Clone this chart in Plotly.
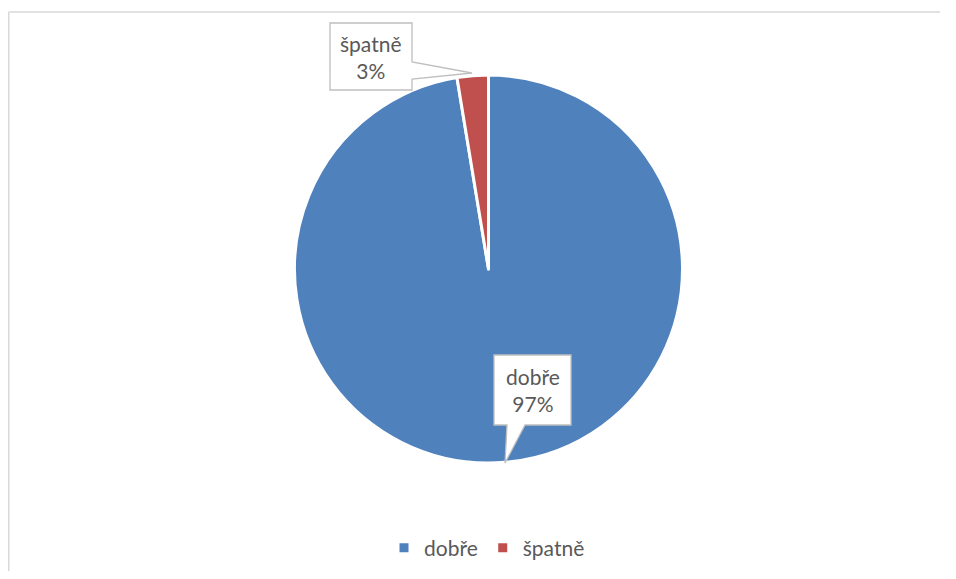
import plotly.graph_objects as go

labels = ["dobře", "špatně"]
values = [97.4, 2.6]
colors = ["#4F81BD", "#C0504D"]

OFF = 8  # page body margin offset in the screenshot
W, H = 956 - 2 * OFF, 579 - 2 * OFF
FONT = "Lato"
TXT = "#595959"

def px(x):
    return (x - OFF) / W

def py(y):
    return 1 - (y - OFF) / H

total = sum(values)
pct = [round(v / total * 100) for v in values]

fig = go.Figure()
fig.add_trace(go.Pie(
    labels=labels, values=values, sort=False, direction="clockwise", rotation=0,
    marker=dict(colors=colors, line=dict(color="white", width=3)),
    textinfo="none", hoverinfo="label+percent",
    domain=dict(x=[px(488.5 - 194), px(488.5 + 194)], y=[py(269 + 194), py(269 - 194)]),
))

def path(points, close=True):
    s = "M " + " L ".join(f"{px(x)},{py(y)}" for x, y in points)
    return s + (" Z" if close else "")

shapes = [
    # chart-area border (left and top edges)
    dict(type="line", xref="paper", yref="paper", x0=px(8.75), x1=px(8.75), y0=0, y1=py(12),
         line=dict(color="#D9D9D9", width=1.5), layer="below"),
    dict(type="line", xref="paper", yref="paper", x0=px(8.75), x1=px(940), y0=py(12), y1=py(12),
         line=dict(color="#D9D9D9", width=1.5), layer="below"),
    # callout for špatně
    dict(type="path", xref="paper", yref="paper",
         path=path([(330, 23), (412, 23), (412, 62), (472, 73), (412, 79), (412, 90), (330, 90)]),
         line=dict(color="#BFBFBF", width=1.3), fillcolor="white", layer="above"),
    # callout for dobře
    dict(type="path", xref="paper", yref="paper",
         path=path([(494, 355), (571, 355), (571, 425), (525, 425), (505, 463), (507, 425), (494, 425)]),
         line=dict(color="#BFBFBF", width=1.3), fillcolor="white", layer="above"),
]

annotations = [
    dict(x=px(371), y=py(57), xref="paper", yref="paper", showarrow=False,
         text=f"{labels[1]}<br>{pct[1]}%", font=dict(family=FONT, size=21, color=TXT),
         xanchor="center", yanchor="middle", align="center"),
    dict(x=px(532.5), y=py(390), xref="paper", yref="paper", showarrow=False,
         text=f"{labels[0]}<br>{pct[0]}%", font=dict(family=FONT, size=21, color=TXT),
         xanchor="center", yanchor="middle", align="center"),
]

fig.update_layout(
    width=W, height=H,
    margin=dict(l=0, r=0, t=0, b=0),
    paper_bgcolor="white", plot_bgcolor="white",
    shapes=shapes, annotations=annotations,
    showlegend=True,
    legend=dict(orientation="h", x=px(487), xanchor="center", y=py(548), yanchor="middle",
                font=dict(family=FONT, size=21, color=TXT), itemwidth=30),
)

fig.write_html("out.html")
